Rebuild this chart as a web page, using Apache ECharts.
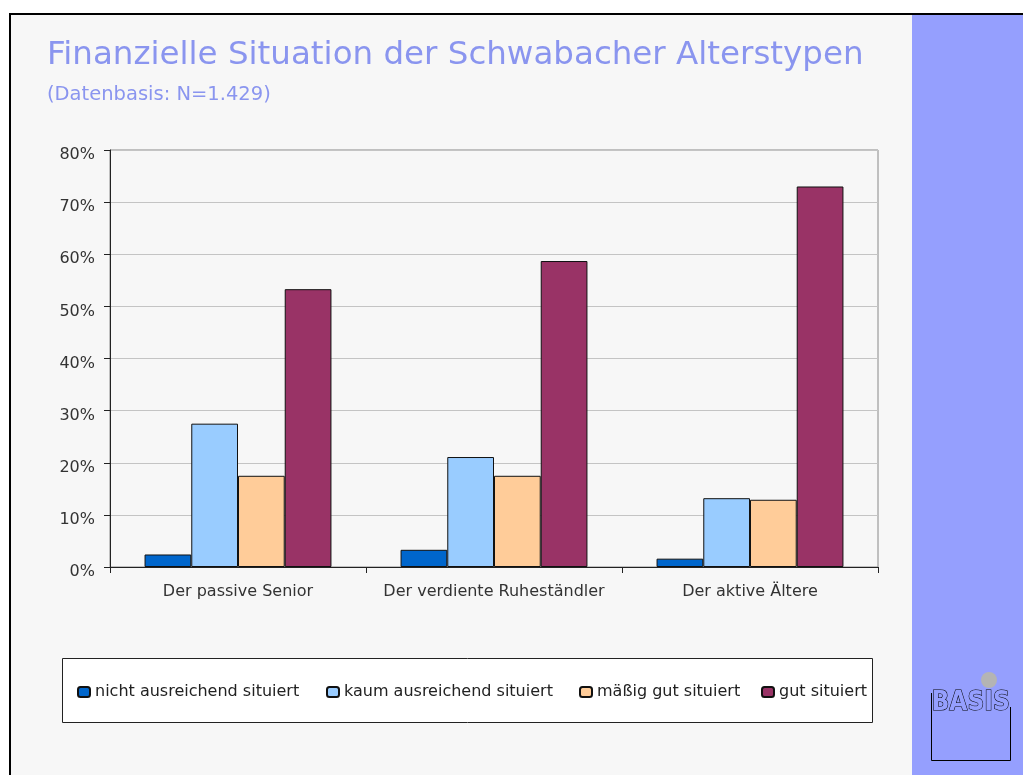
<!DOCTYPE html>
<html>
<head>
<meta charset="utf-8">
<script src="https://cdn.jsdelivr.net/npm/echarts@6/dist/echarts.min.js"></script>
<style>
  html, body { margin: 0; padding: 0; background: #fff; }
  #chart { width: 1023px; height: 775px; }
</style>
</head>
<body>
<div id="chart"></div>
<script>
// Alterstypen
var categories = ['Der passive Senior', 'Der verdiente Ruheständler', 'Der aktive Ältere'];
// Werte in Prozent
var nichtAusreichend = [2.4, 3.3, 1.6];
var kaumAusreichend = [27.5, 21.1, 13.2];
var maessigGut = [17.5, 17.5, 12.9];
var gutSituiert = [53.3, 58.7, 73.0];

var seriesNames = ['nicht ausreichend situiert', 'kaum ausreichend situiert', 'mäßig gut situiert', 'gut situiert'];
var seriesColors = ['#0066cc', '#99ccff', '#ffcc99', '#993366'];
var seriesData = [nichtAusreichend, kaumAusreichend, maessigGut, gutSituiert];

var font = '"DejaVu Sans", Verdana, sans-serif';
var titleColor = '#8a95ef';

var myChart = echarts.init(document.getElementById('chart'));

var legendLeft = [77, 326, 579, 761];
var legends = seriesNames.map(function (n, i) {
  return {
    data: [n],
    left: legendLeft[i],
    top: 684,
    itemWidth: 12,
    itemHeight: 10,
    itemGap: 4,
    padding: 0,
    textStyle: { fontFamily: font, fontSize: 16, color: '#222' }
  };
});

myChart.setOption({
  animation: false,
  backgroundColor: '#fff',
  title: [{
    text: 'Finanzielle Situation der Schwabacher Alterstypen',
    left: 47,
    top: 39,
    padding: 0,
    textStyle: { fontFamily: font, fontSize: 32.5, fontWeight: 'normal', color: titleColor }
  }, {
    text: '(Datenbasis: N=1.429)',
    left: 47,
    top: 85,
    padding: 0,
    textStyle: { fontFamily: font, fontSize: 19.5, fontWeight: 'normal', color: titleColor }
  }],
  graphic: [
    // Hintergrund + Rahmen
    { type: 'rect', z: -10, shape: { x: 10, y: 14, width: 1100, height: 900 },
      style: { fill: '#f7f7f7', stroke: '#000', lineWidth: 2 } },
    { type: 'rect', z: -9, shape: { x: 912, y: 15, width: 120, height: 800 },
      style: { fill: '#959ffe' } },
    // Legendenkasten
    { type: 'rect', z: -5, shape: { x: 62.5, y: 658.5, width: 810, height: 64 },
      style: { fill: '#fff', stroke: '#222', lineWidth: 1 } },
    // Logo
    { type: 'circle', shape: { cx: 989, cy: 680, r: 8 }, style: { fill: '#b4b4b4' } },
    { type: 'polyline', shape: { points: [[931.5, 693], [931.5, 760.5], [1010.5, 760.5], [1010.5, 707]] },
      style: { fill: null, stroke: '#000', lineWidth: 1 } },
    { type: 'text', left: 931, top: 690,
      style: { text: 'BASIS', font: 'bold 26px "DejaVu Sans Condensed", "Liberation Sans Narrow", sans-serif',
        fill: '#959ffe', stroke: '#000', lineWidth: 1 } }
  ],
  legend: legends,
  grid: {
    left: 110,
    top: 150,
    right: 145,
    bottom: 208,
    show: true,
    borderColor: '#888',
    borderWidth: 1,
    backgroundColor: 'transparent'
  },
  xAxis: {
    type: 'category',
    data: categories,
    axisLine: { lineStyle: { color: '#222', width: 1 } },
    axisTick: { show: true, interval: 0, length: 6, lineStyle: { color: '#222' } },
    axisLabel: { interval: 0, margin: 17, fontFamily: font, fontSize: 16, color: '#333' }
  },
  yAxis: {
    type: 'value',
    min: 0,
    max: 80,
    interval: 10,
    axisLine: { show: true, lineStyle: { color: '#222', width: 1 } },
    axisTick: { show: true, length: 6, lineStyle: { color: '#222' } },
    splitLine: { lineStyle: { color: '#c4c4c4', width: 1 } },
    axisLabel: { margin: 15, fontFamily: font, fontSize: 16, color: '#333',
      verticalAlign: 'top', lineHeight: 10, formatter: '{value}%' }
  },
  series: seriesNames.map(function (n, i) {
    return {
      name: n,
      type: 'bar',
      data: seriesData[i],
      barGap: '0%',
      barCategoryGap: '27%',
      itemStyle: { color: seriesColors[i], borderColor: '#111', borderWidth: 1 }
    };
  })
});
</script>
</body>
</html>
